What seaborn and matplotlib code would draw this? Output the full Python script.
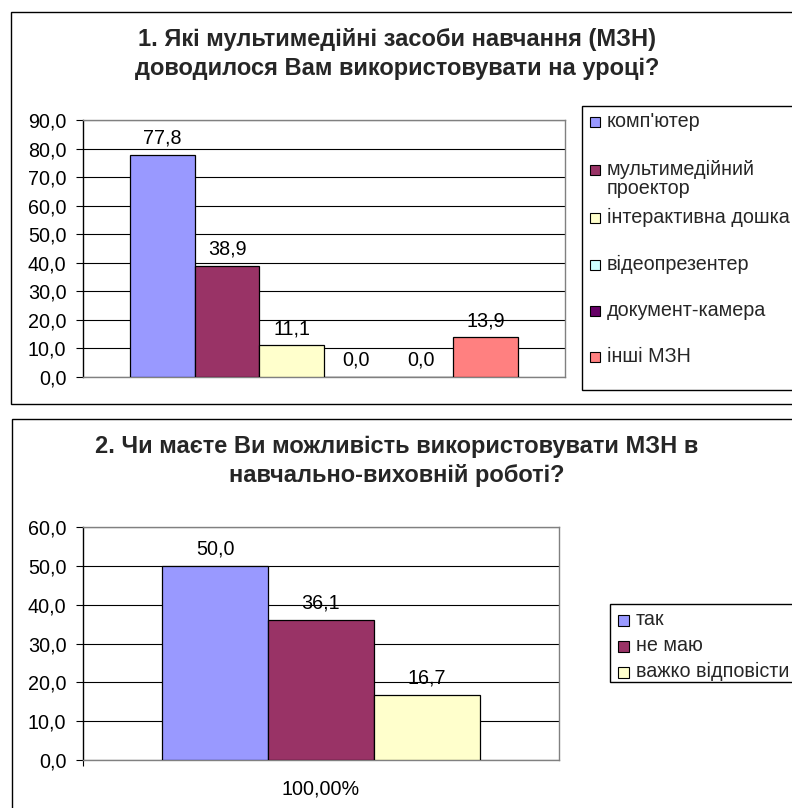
import matplotlib
matplotlib.use("Agg")
import matplotlib.pyplot as plt
from matplotlib.patches import Rectangle
import seaborn as sns
import pandas as pd

# Survey data, chart 1
q1_title = "1. Які мультимедійні засоби навчання (МЗН)\nдоводилося Вам використовувати на уроці?"
q1_items = ["комп'ютер", "мультимедійний\nпроектор", "інтерактивна дошка",
            "відеопрезентер", "документ-камера", "інші МЗН"]
q1_values = [77.8, 38.9, 11.1, 0.0, 0.0, 13.9]
q1_colors = ["#9999FF", "#993366", "#FFFFCC", "#CCFFFF", "#660066", "#FF8080"]
q1_yticks = [0, 10, 20, 30, 40, 50, 60, 70, 80, 90]

# Survey data, chart 2
q2_title = "2. Чи маєте Ви можливість використовувати МЗН в\nнавчально-виховній роботі?"
q2_items = ["так", "не маю", "важко відповісти"]
q2_values = [50.0, 36.1, 16.7]
q2_colors = ["#9999FF", "#993366", "#FFFFCC"]
q2_yticks = [0, 10, 20, 30, 40, 50, 60]
q2_xlabel = "100,00%"

W, H = 792, 808
FS = 14.2      # body text size (ticks, labels, legend)
TITLE_FS = 17  # panel titles

sns.set_theme(style="white")
plt.rcParams["font.family"] = ["Liberation Sans", "DejaVu Sans"]

fig = plt.figure(figsize=(W / 100, H / 100), dpi=100)
fig.patch.set_facecolor("white")


def fx(x):
    return x / W


def fy(y):
    return 1 - y / H


def frame(x0, y0, x1, y1, lw=1.0, shadow=False):
    if shadow:
        fig.patches.append(Rectangle((fx(x0 + 2), fy(y1 + 2)), fx(x1 - x0), (y1 - y0) / H,
                                     transform=fig.transFigure, facecolor="#808080",
                                     edgecolor="none", zorder=-2))
    fig.patches.append(Rectangle((fx(x0), fy(y1)), fx(x1 - x0), (y1 - y0) / H,
                                 transform=fig.transFigure, facecolor="white",
                                 edgecolor="black", linewidth=lw, zorder=-1))


def fmt(v):
    return f"{v:.1f}".replace(".", ",")


def bar_panel(rect, items, values, colors, yticks, width, xlabel=None):
    left, top, right, bottom = rect
    ax = fig.add_axes([fx(left), fy(bottom), fx(right - left), (bottom - top) / H])
    ax.set_facecolor("none")
    df = pd.DataFrame({"group": [xlabel or ""] * len(items), "item": items, "value": values})
    sns.barplot(data=df, x="group", y="value", hue="item", hue_order=items,
                palette=colors, width=width, edgecolor="black", linewidth=0.9,
                saturation=1, legend=False, ax=ax, zorder=3)
    ax.set_ylim(yticks[0], yticks[-1])
    ax.set_xlim(-0.5, 0.5)
    ax.set_yticks(yticks)
    ax.set_yticklabels([fmt(t) for t in yticks], fontsize=FS, color="black")
    ax.yaxis.grid(True, color="black", linewidth=0.8, zorder=0)
    ax.set_axisbelow(True)
    ax.set_xlabel("")
    ax.set_ylabel("")
    if xlabel:
        ax.set_xticks([0])
        ax.set_xticklabels([xlabel], fontsize=FS, color="black")
        ax.tick_params(axis="x", which="major", length=0, pad=14)
        ax.set_xticks([-0.5], minor=True)
        ax.tick_params(axis="x", which="minor", bottom=True, length=4, width=0.8,
                       color="black")
    else:
        ax.set_xticks([])
    ax.tick_params(axis="y", left=True, length=5, width=0.8, color="black", pad=7)
    for s in ["top", "right", "bottom"]:
        ax.spines[s].set_color("#808080")
        ax.spines[s].set_linewidth(1.0)
    ax.spines["left"].set_color("black")
    ax.spines["left"].set_linewidth(1.0)
    for sp in ax.spines.values():
        sp.set_visible(True)
    for container in ax.containers:
        for patch in container:
            h = patch.get_height()
            ax.annotate(fmt(h), (patch.get_x() + patch.get_width() / 2, h),
                        xytext=(0, 12), textcoords="offset points",
                        ha="center", va="center", fontsize=FS, color="black", zorder=5)
    return ax


def draw_legend(box, items, colors, rows_y, sq, text_x, line_h=19):
    sq_x0 = box[0] + 8
    for label, color, cy in zip(items, colors, rows_y):
        fig.patches.append(Rectangle((fx(sq_x0), fy(cy + sq / 2)), fx(sq), sq / H,
                                     transform=fig.transFigure, facecolor=color,
                                     edgecolor="black", linewidth=0.8, zorder=2))
        for i, line in enumerate(label.split("\n")):
            fig.text(fx(text_x), fy(cy + 5 + i * line_h), line, ha="left",
                     va="baseline", fontsize=FS, zorder=3)


# Panel 1
frame(11, 12, 800, 404)
fig.text(fx(397), fy(54), q1_title, ha="center", va="center", fontsize=TITLE_FS,
         fontweight="bold", linespacing=1.32)
bar_panel((83, 120, 565, 377), q1_items, q1_values, q1_colors, q1_yticks, width=0.805)
frame(582, 106, 800, 390)
draw_legend((582, 106, 800, 390), q1_items, q1_colors,
            [122, 170, 218, 265, 311, 357], 10, 607)

# Panel 2
frame(12, 419, 800, 812)
fig.text(fx(397), fy(461), q2_title, ha="center", va="center", fontsize=TITLE_FS,
         fontweight="bold", linespacing=1.32)
bar_panel((83, 527, 559, 760), q2_items, q2_values, q2_colors, q2_yticks, width=0.667,
          xlabel=q2_xlabel)
frame(610, 604, 800, 682, shadow=True)
draw_legend((610, 604, 800, 682), q2_items, q2_colors, [620, 646, 672], 11, 636)

fig.savefig("out.png", dpi=100, facecolor="white")
